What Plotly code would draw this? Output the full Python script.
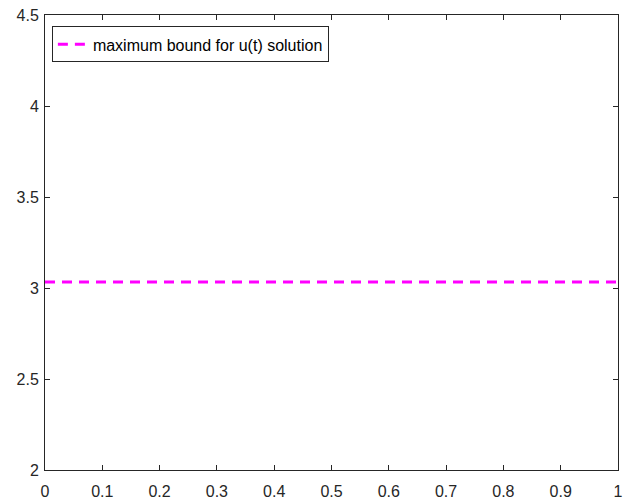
import plotly.graph_objects as go

t_values = [0.0, 0.25, 0.5, 0.75, 1.0]
bound_values = [3.033, 3.033, 3.033, 3.033, 3.033]
x_ticks = [0, 0.1, 0.2, 0.3, 0.4, 0.5, 0.6, 0.7, 0.8, 0.9, 1]
x_tick_labels = ["0", "0.1", "0.2", "0.3", "0.4", "0.5", "0.6", "0.7", "0.8", "0.9", "1"]
y_ticks = [2, 2.5, 3, 3.5, 4, 4.5]
y_tick_labels = ["2", "2.5", "3", "3.5", "4", "4.5"]

fig = go.Figure()
fig.add_trace(go.Scatter(
    x=t_values, y=bound_values, mode="lines",
    name="maximum bound for u(t) solution",
    line=dict(color="#ff00ff", width=3, dash="10px,7px"),
))

font_family = "Liberation Sans, Arial, sans-serif"
axis_common = dict(
    showgrid=False, zeroline=False, showline=True, linecolor="#262626",
    linewidth=1, mirror="ticks", ticks="inside", ticklen=5, tickcolor="#262626",
    tickfont=dict(family=font_family, size=16, color="#262626"),
    ticklabeloverflow="allow",
)
fig.update_xaxes(range=[0, 1], tickvals=x_ticks, ticktext=x_tick_labels,
                 ticklabelstandoff=7, **axis_common)
fig.update_yaxes(range=[2, 4.5], tickvals=y_ticks, ticktext=y_tick_labels,
                 ticklabelstandoff=2, **axis_common)

fig.update_layout(
    width=626, height=503,
    margin=dict(l=45, r=3, t=15, b=31),
    paper_bgcolor="white", plot_bgcolor="white",
    showlegend=True,
    legend=dict(
        x=0.012, y=0.975, xanchor="left", yanchor="top",
        bgcolor="white", bordercolor="#262626", borderwidth=1,
        font=dict(family=font_family, size=16, color="#000000"),
        itemwidth=30, tracegroupgap=0,
    ),
)

fig.write_html("out.html")
